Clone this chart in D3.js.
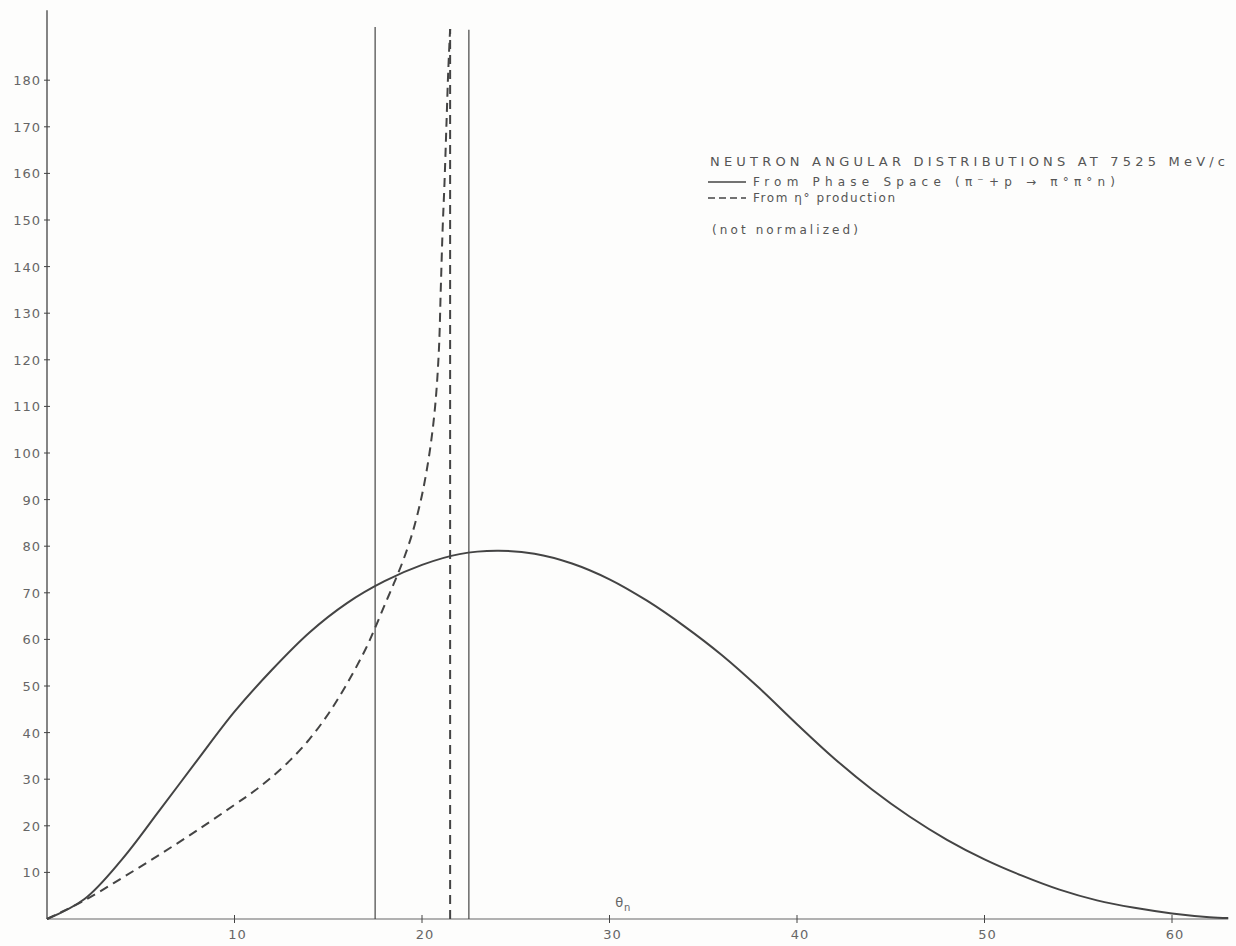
<!DOCTYPE html>
<html>
<head>
<meta charset="utf-8">
<script src="https://cdn.jsdelivr.net/npm/d3@7"></script>
<style>
  body { margin: 0; background: #fdfdfc; }
  svg { display: block; }
  .tick-label { font-family: "DejaVu Sans", sans-serif; font-size: 13px; fill: #666; letter-spacing: 1px; }
  .legend { font-family: "DejaVu Sans", sans-serif; font-size: 12px; fill: #555; }
</style>
</head>
<body>
<svg id="chart-area"></svg>
<script>
// phase space curve (solid)
const phaseTheta = [0, 2, 4, 6, 8, 10, 12, 14, 16, 18, 20, 22, 24, 26, 28, 30, 32, 34, 36, 38, 40, 42, 44, 46, 48, 50, 52, 54, 56, 58, 60, 62, 63]
const phaseValue = [0, 4.3, 12.8, 23.3, 34, 44.5, 53.5, 61.5, 67.8, 72.5, 76, 78.3, 79, 78.4, 76.3, 72.9, 68.3, 62.8, 56.6, 49.5, 41.8, 34.4, 27.8, 22, 17, 12.8, 9.3, 6.3, 4, 2.4, 1.2, 0.4, 0.2]

// eta production curve (dashed)
const etaTheta = [0, 2, 4, 6, 8, 10, 11, 12, 13, 14, 15, 16, 17, 17.5, 18, 18.5, 19, 19.5, 20, 20.4, 20.7, 20.9, 21, 21.1, 21.2, 21.3, 21.4, 21.5]
const etaValue = [0, 4, 8.8, 13.8, 19, 24.5, 27.3, 30.5, 34.2, 38.6, 44, 50.5, 58, 62.5, 67.3, 72, 77, 83, 91, 100, 110, 122, 135, 148, 158, 170, 182, 191]

// vertical marker lines
const solidMarks = [17.5, 22.5]
const solidMarkTops = [191.4, 190.8]
const dashedMark = 21.5
const dashedMarkTop = 191

const yTicks = [10, 20, 30, 40, 50, 60, 70, 80, 90, 100, 110, 120, 130, 140, 150, 160, 170, 180]
const xTicks = [10, 20, 30, 40, 50, 60]

const legendTitle = "NEUTRON ANGULAR DISTRIBUTIONS AT 7525 MeV/c"
const legendPhase = "From Phase Space (π⁻+p → π°π°n)"
const legendEta = "From  η° production"
const legendNote = "(not normalized)"

const width = 1236
const height = 946

const svg = d3.select("#chart-area")
    .attr("width", width)
    .attr("height", height)

const x = d3.scaleLinear().domain([0, 63]).range([47, 47 + 63 * 18.75])
const y = d3.scaleLinear().domain([0, 195]).range([919, 919 - 195 * 4.66])

const ink = "#444"

// y axis
svg.append("line")
    .attr("x1", x(0)).attr("x2", x(0))
    .attr("y1", y(0)).attr("y2", y(195))
    .attr("stroke", ink).attr("stroke-width", 1.3)

svg.selectAll(".ytick")
    .data(yTicks)
    .enter().append("line")
    .attr("class", "ytick")
    .attr("x1", x(0) - 3).attr("x2", x(0) + 3)
    .attr("y1", d => y(d)).attr("y2", d => y(d))
    .attr("stroke", ink).attr("stroke-width", 1)

svg.selectAll(".ylabel")
    .data(yTicks)
    .enter().append("text")
    .attr("class", "tick-label")
    .attr("x", x(0) - 6)
    .attr("y", d => y(d) + 5)
    .attr("text-anchor", "end")
    .text(d => d)

// x axis
svg.append("line")
    .attr("x1", x(0)).attr("x2", x(63))
    .attr("y1", y(0)).attr("y2", y(0))
    .attr("stroke", "#666").attr("stroke-width", 1.2)

svg.selectAll(".xtick")
    .data(xTicks)
    .enter().append("line")
    .attr("class", "xtick")
    .attr("x1", d => x(d)).attr("x2", d => x(d))
    .attr("y1", y(0) - 4).attr("y2", y(0) + 4)
    .attr("stroke", ink).attr("stroke-width", 1)

svg.selectAll(".xlabel")
    .data(xTicks)
    .enter().append("text")
    .attr("class", "tick-label")
    .attr("x", d => x(d) + 3)
    .attr("y", y(0) + 20)
    .attr("text-anchor", "middle")
    .text(d => d)

// axis title theta_n
const axTitle = svg.append("text")
    .attr("class", "tick-label")
    .attr("x", x(30.3))
    .attr("y", y(0) - 12)
    .style("font-size", "13px")
axTitle.append("tspan").text("θ")
axTitle.append("tspan").attr("dy", 4).style("font-size", "10px").text("n")

// vertical lines
svg.selectAll(".mark")
    .data(solidMarks)
    .enter().append("line")
    .attr("class", "mark")
    .attr("x1", d => x(d)).attr("x2", d => x(d))
    .attr("y1", y(0))
    .attr("y2", (d, i) => y(solidMarkTops[i]))
    .attr("stroke", ink).attr("stroke-width", 1.2)

svg.append("line")
    .attr("x1", x(dashedMark)).attr("x2", x(dashedMark))
    .attr("y1", y(0)).attr("y2", y(dashedMarkTop))
    .attr("stroke", ink).attr("stroke-width", 2)
    .attr("stroke-dasharray", "9,6")

// curves
const line = d3.line()
    .x(d => x(d[0]))
    .y(d => y(d[1]))
    .curve(d3.curveCatmullRom.alpha(0.5))

svg.append("path")
    .datum(d3.zip(phaseTheta, phaseValue))
    .attr("d", line)
    .attr("fill", "none")
    .attr("stroke", ink)
    .attr("stroke-width", 2)

svg.append("path")
    .datum(d3.zip(etaTheta, etaValue))
    .attr("d", line)
    .attr("fill", "none")
    .attr("stroke", ink)
    .attr("stroke-width", 2)
    .attr("stroke-dasharray", "9,6")

// legend
svg.append("text")
    .attr("class", "legend")
    .attr("x", 710).attr("y", 166)
    .style("font-size", "13px")
    .attr("textLength", 515).attr("lengthAdjust", "spacing")
    .text(legendTitle)

svg.append("line")
    .attr("x1", 708).attr("x2", 746)
    .attr("y1", 182).attr("y2", 182)
    .attr("stroke", ink).attr("stroke-width", 1.5)

svg.append("text")
    .attr("class", "legend")
    .attr("x", 753).attr("y", 186)
    .attr("textLength", 362).attr("lengthAdjust", "spacing")
    .text(legendPhase)

svg.append("line")
    .attr("x1", 708).attr("x2", 746)
    .attr("y1", 198).attr("y2", 198)
    .attr("stroke", ink).attr("stroke-width", 1.5)
    .attr("stroke-dasharray", "7,4")

svg.append("text")
    .attr("class", "legend")
    .attr("x", 753).attr("y", 202)
    .attr("textLength", 142).attr("lengthAdjust", "spacing")
    .text(legendEta)

svg.append("text")
    .attr("class", "legend")
    .attr("x", 712).attr("y", 234)
    .attr("textLength", 146).attr("lengthAdjust", "spacing")
    .text(legendNote)
</script>
</body>
</html>
